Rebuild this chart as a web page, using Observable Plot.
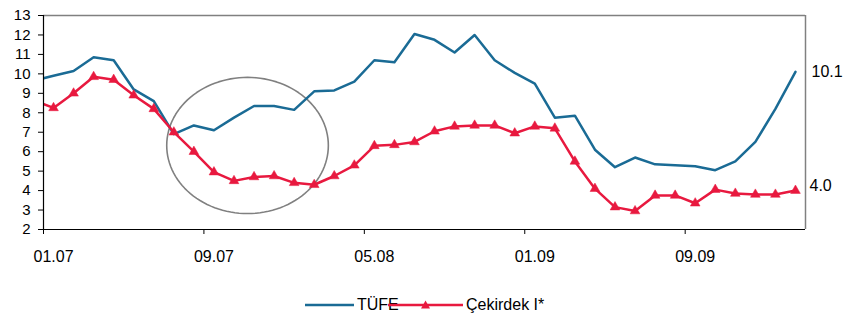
<!DOCTYPE html>
<html>
<head>
<meta charset="utf-8">
<script src="https://cdn.jsdelivr.net/npm/d3@7"></script>
<script src="https://cdn.jsdelivr.net/npm/@observablehq/plot@0.6"></script>
<style>
  body { margin: 0; background: #fff; font-family: "Liberation Sans", Arial, sans-serif; }
  #chart { width: 860px; }
  .legend { position: relative; height: 45px; width: 860px; font-size: 16px; color: #000; }
  .legend .item { position: absolute; top: 26px; display: flex; align-items: center; }
</style>
</head>
<body>
<div id="chart"></div>
<script>
// Months from 12.06 (index -1, clipped at the left edge) to 02.10 (index 37)
const startIndex = -1;
const tufe = [9.65, 9.9, 10.15, 10.85, 10.7, 9.2, 8.6, 6.9, 7.35, 7.1, 7.75, 8.35, 8.35, 8.15,
  9.1, 9.15, 9.6, 10.7, 10.6, 12.05, 11.75, 11.1, 12.0, 10.7, 10.05, 9.5, 7.75, 7.85,
  6.1, 5.2, 5.7, 5.35, 5.3, 5.25, 5.05, 5.5, 6.5, 8.2, 10.1];
const cekirdek = [8.65, 8.25, 9.0, 9.85, 9.7, 8.9, 8.2, 7.0, 6.0, 4.95, 4.5, 4.7, 4.75, 4.4,
  4.3, 4.75, 5.3, 6.3, 6.35, 6.5, 7.05, 7.3, 7.35, 7.35, 6.95, 7.3, 7.2, 5.5,
  4.1, 3.15, 2.95, 3.75, 3.75, 3.35, 4.05, 3.85, 3.8, 3.8, 4.0];
const tickLabels = ["01.07", "09.07", "05.08", "01.09", "09.09"];
const tickLabelIndex = [0, 8, 16, 24, 32];
const endLabels = ["10.1", "4.0"];
const endValues = [10.1, 4.0];
const seriesNames = ["TÜFE", "Çekirdek I*"];
const seriesColors = ["#1a6b95", "#e8193f"];
// highlighted region (annotation ellipse) in data units: center index, center value, radii
const highlight = [9.675, 6.32, 4.03, 3.5];

const tufeData = tufe.map((v, i) => ({i: i + startIndex, v}));
const cekData = cekirdek.map((v, i) => ({i: i + startIndex, v}));
const lastI = tufe.length - 1 + startIndex;
const ellipse = d3.range(0, 361, 3).map(a => ({
  i: highlight[0] + highlight[2] * Math.cos(a * Math.PI / 180),
  v: highlight[1] + highlight[3] * Math.sin(a * Math.PI / 180)
}));
const boundaryTicks = tickLabelIndex.map(k => k - 0.5);

const chart = Plot.plot({
  width: 860,
  height: 270,
  marginLeft: 43,
  marginRight: 55,
  marginTop: 15,
  marginBottom: 41,
  style: {fontFamily: "Liberation Sans, Arial, sans-serif", fontSize: "15px", color: "#000", background: "#fff"},
  x: {type: "linear", domain: [-0.5, lastI + 0.5]},
  y: {domain: [2, 13]},
  marks: [
    Plot.ruleY([13], {stroke: "#808080", strokeWidth: 1.5}),
    Plot.ruleX([lastI + 0.5], {stroke: "#808080", strokeWidth: 1.5}),
    Plot.axisY({ticks: d3.range(2, 14), tickSize: 5, tickPadding: 8, fontSize: 15, label: null}),
    Plot.axisX({ticks: boundaryTicks, tickSize: 5, tickFormat: () => "", label: null}),
    Plot.text(tickLabelIndex, {x: d => d, y: () => 2, dy: 27, text: (d, j) => tickLabels[j], fontSize: 16, lineAnchor: "middle"}),
    Plot.line(ellipse, {x: "i", y: "v", stroke: "#808080", strokeWidth: 1.6, curve: "linear"}),
    Plot.line(tufeData, {x: "i", y: "v", stroke: seriesColors[0], strokeWidth: 2.5, clip: true}),
    Plot.line(cekData, {x: "i", y: "v", stroke: seriesColors[1], strokeWidth: 2.5, clip: true}),
    Plot.dot(cekData.filter(d => d.i >= 0), {x: "i", y: "v", symbol: "triangle", r: 3.6, fill: seriesColors[1], stroke: seriesColors[1], strokeWidth: 0.5}),
    Plot.ruleX([-0.5], {stroke: "#000", strokeWidth: 1.2}),
    Plot.ruleY([2], {stroke: "#000", strokeWidth: 1.2}),
    Plot.text([endValues[0]], {x: () => lastI + 0.5, y: d => d, dx: 6, text: () => endLabels[0], textAnchor: "start", fontSize: 16}),
    Plot.text([endValues[1]], {x: () => lastI + 0.5, y: d => d, dx: 4, dy: -5, text: () => endLabels[1], textAnchor: "start", fontSize: 16})
  ]
});
document.getElementById("chart").appendChild(chart);

const legend = document.createElement("div");
legend.className = "legend";
legend.innerHTML = `
  <div class="item" style="left:305px">
    <svg width="49" height="12"><line x1="0" x2="49" y1="6" y2="6" stroke="${seriesColors[0]}" stroke-width="2.5"/></svg>
    <span style="margin-left:3px">${seriesNames[0]}</span>
  </div>
  <div class="item" style="left:388px">
    <svg width="75" height="12"><line x1="0" x2="75" y1="6" y2="6" stroke="${seriesColors[1]}" stroke-width="2.5"/>
    <path d="M37.5,1.5 L42,9.5 L33,9.5 Z" fill="${seriesColors[1]}"/></svg>
    <span style="margin-left:3px">${seriesNames[1]}</span>
  </div>`;
document.getElementById("chart").appendChild(legend);
</script>
</body>
</html>
